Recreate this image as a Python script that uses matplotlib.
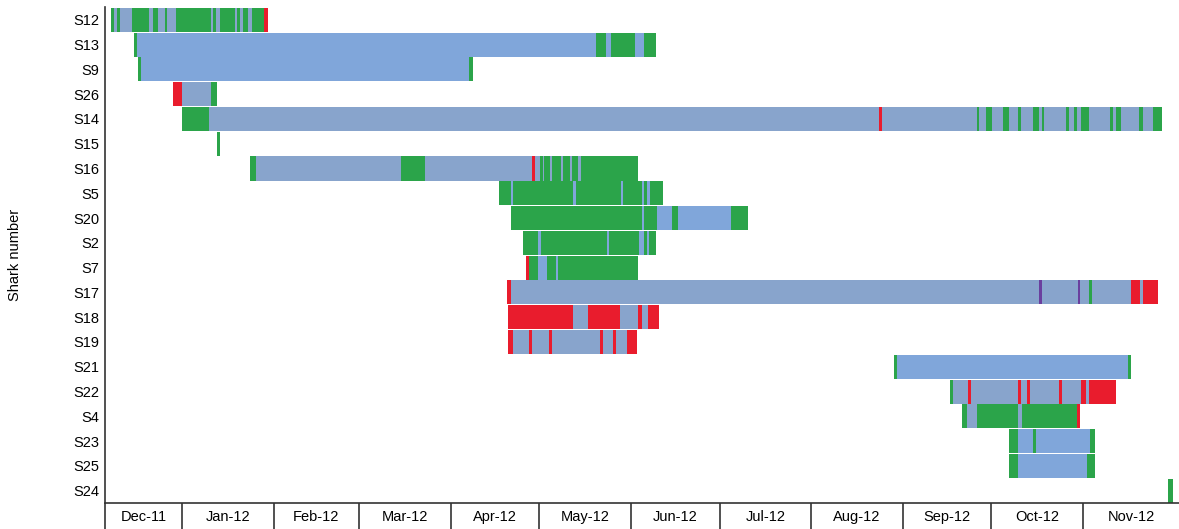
import matplotlib
matplotlib.use("Agg")
import matplotlib.pyplot as plt

plt.rcParams['font.family'] = ['Liberation Sans', 'DejaVu Sans']

# -------------------------------
# Data: detection segments per shark
# x values are days since 1 Jan 2012, code = state colour
# first segment of each row is the base bar, the rest are drawn over it
# -------------------------------
sharks = ["S12", "S13", "S9", "S26", "S14", "S15", "S16", "S5", "S20", "S2",
          "S7", "S17", "S18", "S19", "S21", "S22", "S4", "S23", "S25", "S24"]

s12 = [(-24.0, 29.2, "c"), (-24.0, -22.9, "g"), (-22.1, -21.0, "g"), (-17.0, -11.2, "g"),
       (-9.9, -8.0, "g"), (-5.8, -5.0, "g"), (-2.0, 9.7, "g"), (10.6, 11.5, "g"),
       (12.9, 17.9, "g"), (18.7, 19.6, "g"), (20.8, 22.4, "g"), (23.6, 27.9, "g"),
       (27.9, 29.2, "r")]
s13 = [(-16.1, 160.5, "b"), (-16.1, -15.1, "g"), (140.1, 143.5, "g"), (145.2, 153.3, "g"),
       (156.4, 160.5, "g")]
s9 = [(-15.0, 98.5, "b"), (-15.0, -14.0, "g"), (97.2, 98.5, "g")]
s26 = [(-3.1, 11.8, "c"), (-3.1, 0.0, "r"), (9.8, 11.8, "g")]
s14 = [(0.0, 331.7, "c"), (0.0, 9.0, "g"), (236.1, 236.9, "r"), (269.0, 269.9, "g"),
       (272.2, 274.1, "g"), (278.0, 280.0, "g"), (283.1, 283.9, "g"), (288.2, 290.2, "g"),
       (291.0, 291.8, "g"), (299.3, 300.3, "g"), (302.1, 303.1, "g"), (304.2, 307.1, "g"),
       (314.1, 315.2, "g"), (316.1, 318.0, "g"), (324.1, 325.2, "g"), (328.6, 331.7, "g")]
s15 = [(12.0, 12.9, "g")]
s16 = [(23.0, 154.5, "c"), (23.0, 25.1, "g"), (74.1, 82.3, "g"), (118.4, 119.5, "r"),
       (121.2, 122.1, "g"), (122.6, 124.6, "g"), (125.4, 128.3, "g"), (129.1, 131.3, "g"),
       (132.1, 134.2, "g"), (135.0, 154.5, "g")]
s5 = [(107.4, 162.7, "g"), (111.3, 111.9, "b"), (132.5, 133.4, "b"), (148.6, 149.4, "b"),
      (155.6, 156.4, "b"), (157.5, 158.4, "b")]
s20 = [(111.4, 191.7, "b"), (111.4, 160.7, "g"), (155.6, 156.4, "b"), (165.8, 167.8, "g"),
       (185.7, 191.7, "g")]
s2 = [(115.5, 160.6, "g"), (120.6, 121.5, "b"), (143.8, 144.5, "b"), (154.7, 156.4, "b"),
      (157.3, 158.2, "b")]
s7 = [(116.5, 154.5, "g"), (116.5, 117.6, "r"), (120.6, 123.5, "b"), (126.5, 127.4, "b")]
s17 = [(110.1, 330.3, "c"), (110.1, 111.3, "r"), (290.1, 291.0, "p"), (303.2, 304.0, "p"),
       (307.1, 308.1, "g"), (321.2, 324.3, "r"), (325.2, 330.3, "r")]
s18 = [(110.5, 161.6, "c"), (110.5, 132.3, "r"), (137.5, 148.3, "r"), (154.5, 155.6, "r"),
       (157.7, 161.6, "r")]
s19 = [(110.5, 153.9, "c"), (110.5, 112.2, "r"), (117.6, 118.5, "r"), (124.3, 125.3, "r"),
       (141.5, 142.6, "r"), (145.8, 146.9, "r"), (150.5, 153.9, "r")]
s21 = [(241.0, 321.3, "b"), (241.0, 241.9, "g"), (320.3, 321.3, "g")]
s22 = [(260.0, 316.2, "c"), (260.0, 260.9, "g"), (266.2, 267.1, "r"), (282.9, 283.9, "r"),
       (286.2, 287.1, "r"), (297.0, 297.9, "r"), (304.2, 305.9, "r"), (307.0, 316.2, "r")]
s4 = [(263.9, 304.0, "c"), (263.9, 265.9, "g"), (269.0, 283.1, "g"), (284.3, 303.1, "g"),
      (303.1, 304.0, "r")]
s23 = [(280.1, 309.1, "b"), (280.1, 283.1, "g"), (288.2, 289.0, "g"), (307.4, 309.1, "g")]
s25 = [(280.1, 309.1, "b"), (280.1, 283.1, "g"), (306.3, 309.1, "g")]
s24 = [(333.8, 335.5, "g")]

rows = [s12, s13, s9, s26, s14, s15, s16, s5, s20, s2,
        s7, s17, s18, s19, s21, s22, s4, s23, s25, s24]

# month boundaries (days since 1 Jan 2012) and labels
month_starts = [-26.1, 0, 31, 60, 91, 121, 152, 182, 213, 244, 274, 305, 337.5]
month_labels = ["Dec-11", "Jan-12", "Feb-12", "Mar-12", "Apr-12", "May-12",
                "Jun-12", "Jul-12", "Aug-12", "Sep-12", "Oct-12", "Nov-12"]

colors = {"b": "#80a6da", "c": "#88a4cc", "g": "#2ba44a", "r": "#e91c2d", "p": "#6a3f9e"}

# -------------------------------
# Plot
# -------------------------------
fig = plt.figure(figsize=(11.79, 5.29), dpi=100)
ax = fig.add_axes([0.089, 0.049, 0.911, 0.937])

for i, segs in enumerate(rows):
    for start, end, code in segs:
        ax.barh(i, end - start, left=start, height=0.97, color=colors[code], linewidth=0)

ax.set_xlim(month_starts[0], month_starts[-1])
ax.set_ylim(len(sharks) - 0.5, -0.5)

ax.set_yticks(range(len(sharks)))
ax.set_yticklabels(sharks, fontsize=10.5)
ax.tick_params(axis='y', length=0, pad=4)
ax.set_ylabel("Shark number", fontsize=10.5, labelpad=37)

# month separators as long ticks, labels centred on minor ticks
ax.set_xticks(month_starts[:-1])
ax.set_xticklabels([])
ax.tick_params(axis='x', which='major', direction='out', length=22, width=1.2, color='#333333')
centers = [(month_starts[k] + month_starts[k + 1]) / 2 for k in range(len(month_labels))]
ax.set_xticks(centers, minor=True)
ax.set_xticklabels(month_labels, minor=True, fontsize=10.5)
ax.tick_params(axis='x', which='minor', length=0, pad=5)

for side in ["top", "right"]:
    ax.spines[side].set_visible(False)
for side in ["left", "bottom"]:
    ax.spines[side].set_linewidth(1.2)
    ax.spines[side].set_color('#333333')

fig.savefig("out.png", dpi=100)
